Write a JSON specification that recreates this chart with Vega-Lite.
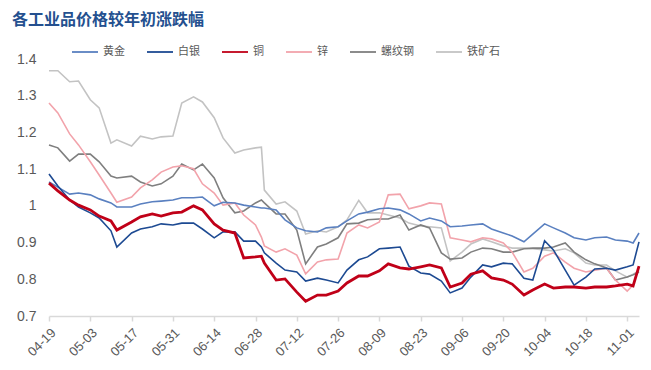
{
  "$schema": "https://vega.github.io/schema/vega-lite/v6.json",
  "width": 590,
  "height": 257,
  "autosize": {"type": "none"},
  "padding": {"left": 49, "top": 59, "right": 12, "bottom": 54},
  "background": "white",
  "title": {"text": "各工业品价格较年初涨跌幅", "anchor": "start", "frame": "group", "dx": -37, "offset": 10, "font": "Noto Sans CJK SC", "fontSize": 16, "fontWeight": "bold", "color": "#24508f"},
  "config": {"view": {"stroke": null}},
  "data": {"values": [
    {"date": "2021/04/19", "黄金": 1.065, "白银": 1.087, "铜": 1.062, "锌": 1.28, "螺纹钢": 1.166, "铁矿石": 1.368},
    {"date": "2021/04/22", "黄金": 1.051, "白银": 1.054, "铜": 1.041, "锌": 1.253, "螺纹钢": 1.158, "铁矿石": 1.368},
    {"date": "2021/04/26", "黄金": 1.032, "白银": 1.016, "铜": 1.016, "锌": 1.196, "螺纹钢": 1.122, "铁矿石": 1.338},
    {"date": "2021/04/29", "黄金": 1.035, "白银": 0.997, "铜": 1.002, "锌": 1.166, "螺纹钢": 1.141, "铁矿石": 1.34},
    {"date": "2021/05/03", "黄金": 1.03, "白银": 0.981, "铜": 0.989, "锌": 1.12, "螺纹钢": 1.141, "铁矿石": 1.289},
    {"date": "2021/05/06", "黄金": 1.019, "白银": 0.967, "铜": 0.972, "锌": 1.084, "螺纹钢": 1.12, "铁矿石": 1.267},
    {"date": "2021/05/10", "黄金": 1.008, "白银": 0.932, "铜": 0.959, "锌": 1.035, "螺纹钢": 1.081, "铁矿石": 1.171},
    {"date": "2021/05/12", "黄金": 0.997, "白银": 0.888, "铜": 0.934, "锌": 1.01, "螺纹钢": 1.076, "铁矿石": 1.18},
    {"date": "2021/05/17", "黄金": 0.997, "白银": 0.926, "铜": 0.956, "锌": 1.024, "螺纹钢": 1.081, "铁矿石": 1.163},
    {"date": "2021/05/20", "黄金": 1.005, "白银": 0.937, "铜": 0.97, "锌": 1.049, "螺纹钢": 1.065, "铁矿石": 1.19},
    {"date": "2021/05/24", "黄金": 1.011, "白银": 0.943, "铜": 0.978, "锌": 1.071, "螺纹钢": 1.054, "铁矿石": 1.182},
    {"date": "2021/05/27", "黄金": 1.013, "白银": 0.951, "铜": 0.972, "锌": 1.092, "螺纹钢": 1.06, "铁矿石": 1.188},
    {"date": "2021/05/31", "黄金": 1.016, "白银": 0.948, "铜": 0.981, "锌": 1.106, "螺纹钢": 1.081, "铁矿石": 1.19},
    {"date": "2021/06/03", "黄金": 1.022, "白银": 0.953, "铜": 0.983, "锌": 1.109, "螺纹钢": 1.114, "铁矿石": 1.28},
    {"date": "2021/06/07", "黄金": 1.022, "白银": 0.953, "铜": 1.0, "锌": 1.101, "螺纹钢": 1.098, "铁矿石": 1.297},
    {"date": "2021/06/10", "黄金": 1.024, "白银": 0.937, "铜": 0.989, "锌": 1.06, "螺纹钢": 1.114, "铁矿石": 1.283},
    {"date": "2021/06/14", "黄金": 1.0, "白银": 0.913, "铜": 0.951, "锌": 1.035, "螺纹钢": 1.076, "铁矿石": 1.24},
    {"date": "2021/06/17", "黄金": 1.01, "白银": 0.929, "铜": 0.934, "锌": 1.002, "螺纹钢": 1.022, "铁矿石": 1.185},
    {"date": "2021/06/21", "黄金": 1.008, "白银": 0.929, "铜": 0.926, "锌": 1.008, "螺纹钢": 0.981, "铁矿石": 1.144},
    {"date": "2021/06/24", "黄金": 1.002, "白银": 0.904, "铜": 0.858, "锌": 0.975, "螺纹钢": 0.986, "铁矿石": 1.152},
    {"date": "2021/06/28", "黄金": 0.997, "白银": 0.904, "铜": 0.861, "锌": 0.948, "螺纹钢": 1.008, "铁矿石": 1.158},
    {"date": "2021/06/30", "黄金": 0.994, "白银": 0.888, "铜": 0.863, "锌": 0.915, "螺纹钢": 1.016, "铁矿石": 1.16},
    {"date": "2021/07/01", "黄金": 0.994, "白银": 0.872, "铜": 0.844, "锌": 0.891, "螺纹钢": 1.008, "铁矿石": 1.043},
    {"date": "2021/07/05", "黄金": 0.989, "白银": 0.844, "铜": 0.798, "锌": 0.874, "螺纹钢": 0.978, "铁矿石": 1.005},
    {"date": "2021/07/08", "黄金": 0.962, "白银": 0.825, "铜": 0.801, "锌": 0.883, "螺纹钢": 0.978, "铁矿石": 1.011},
    {"date": "2021/07/12", "黄金": 0.94, "白银": 0.82, "铜": 0.765, "锌": 0.866, "螺纹钢": 0.934, "铁矿石": 0.986},
    {"date": "2021/07/15", "黄金": 0.932, "白银": 0.795, "铜": 0.74, "锌": 0.815, "螺纹钢": 0.842, "铁矿石": 0.923},
    {"date": "2021/07/19", "黄金": 0.929, "白银": 0.803, "铜": 0.757, "锌": 0.847, "螺纹钢": 0.888, "铁矿石": 0.932},
    {"date": "2021/07/22", "黄金": 0.94, "白银": 0.798, "铜": 0.757, "锌": 0.853, "螺纹钢": 0.896, "铁矿石": 0.929},
    {"date": "2021/07/26", "黄金": 0.943, "白银": 0.79, "铜": 0.768, "锌": 0.855, "螺纹钢": 0.913, "铁矿石": 0.943},
    {"date": "2021/07/29", "黄金": 0.959, "白银": 0.825, "铜": 0.79, "锌": 0.926, "螺纹钢": 0.951, "铁矿石": 0.962},
    {"date": "2021/08/02", "黄金": 0.978, "白银": 0.853, "铜": 0.809, "锌": 0.948, "螺纹钢": 0.953, "铁矿石": 1.015},
    {"date": "2021/08/05", "黄金": 0.983, "白银": 0.861, "铜": 0.809, "锌": 0.94, "螺纹钢": 0.962, "铁矿石": 0.981},
    {"date": "2021/08/09", "黄金": 0.992, "白银": 0.883, "铜": 0.823, "锌": 0.956, "螺纹钢": 0.964, "铁矿石": 0.981},
    {"date": "2021/08/12", "黄金": 0.994, "白银": 0.885, "铜": 0.842, "锌": 1.03, "螺纹钢": 0.964, "铁矿石": 0.975},
    {"date": "2021/08/16", "黄金": 0.989, "白银": 0.888, "铜": 0.831, "锌": 1.032, "螺纹钢": 0.975, "铁矿石": 0.967},
    {"date": "2021/08/19", "黄金": 0.978, "白银": 0.836, "铜": 0.828, "锌": 0.992, "螺纹钢": 0.934, "铁矿石": 0.953},
    {"date": "2021/08/23", "黄金": 0.959, "白银": 0.817, "铜": 0.834, "锌": 1.0, "螺纹钢": 0.948, "铁矿石": 0.945},
    {"date": "2021/08/26", "黄金": 0.967, "白银": 0.814, "铜": 0.839, "锌": 1.008, "螺纹钢": 0.94, "铁矿石": 0.943},
    {"date": "2021/08/30", "黄金": 0.959, "白银": 0.795, "铜": 0.831, "锌": 1.005, "螺纹钢": 0.872, "铁矿石": 0.94},
    {"date": "2021/09/02", "黄金": 0.943, "白银": 0.763, "铜": 0.779, "锌": 0.913, "螺纹钢": 0.855, "铁矿石": 0.85},
    {"date": "2021/09/06", "黄金": 0.945, "白银": 0.776, "铜": 0.79, "锌": 0.907, "螺纹钢": 0.858, "铁矿石": 0.874},
    {"date": "2021/09/09", "黄金": 0.948, "白银": 0.806, "铜": 0.814, "锌": 0.902, "螺纹钢": 0.874, "铁矿石": 0.896},
    {"date": "2021/09/13", "黄金": 0.951, "白银": 0.839, "铜": 0.823, "锌": 0.913, "螺纹钢": 0.885, "铁矿石": 0.91},
    {"date": "2021/09/16", "黄金": 0.937, "白银": 0.834, "铜": 0.804, "锌": 0.91, "螺纹钢": 0.883, "铁矿石": 0.902},
    {"date": "2021/09/20", "黄金": 0.926, "白银": 0.844, "铜": 0.798, "锌": 0.899, "螺纹钢": 0.874, "铁矿石": 0.891},
    {"date": "2021/09/23", "黄金": 0.918, "白银": 0.842, "铜": 0.787, "锌": 0.874, "螺纹钢": 0.874, "铁矿石": 0.885},
    {"date": "2021/09/27", "黄金": 0.902, "白银": 0.803, "铜": 0.757, "锌": 0.82, "螺纹钢": 0.883, "铁矿石": 0.885},
    {"date": "2021/09/30", "黄金": 0.923, "白银": 0.798, "铜": 0.771, "锌": 0.83, "螺纹钢": 0.885, "铁矿石": 0.883},
    {"date": "2021/10/04", "黄金": 0.951, "白银": 0.905, "铜": 0.787, "锌": 0.863, "螺纹钢": 0.885, "铁矿石": 0.88},
    {"date": "2021/10/07", "黄金": 0.94, "白银": 0.88, "铜": 0.776, "锌": 0.872, "螺纹钢": 0.888, "铁矿石": 0.877},
    {"date": "2021/10/11", "黄金": 0.926, "白银": 0.825, "铜": 0.779, "锌": 0.847, "螺纹钢": 0.899, "铁矿石": 0.883},
    {"date": "2021/10/14", "黄金": 0.913, "白银": 0.784, "铜": 0.779, "锌": 0.83, "螺纹钢": 0.874, "铁矿石": 0.872},
    {"date": "2021/10/18", "黄金": 0.907, "白银": 0.806, "铜": 0.776, "锌": 0.82, "螺纹钢": 0.853, "铁矿石": 0.844},
    {"date": "2021/10/21", "黄金": 0.913, "白银": 0.828, "铜": 0.779, "锌": 0.825, "螺纹钢": 0.842, "铁矿石": 0.839},
    {"date": "2021/10/25", "黄金": 0.915, "白银": 0.83, "铜": 0.779, "锌": 0.83, "螺纹钢": 0.831, "铁矿石": 0.839},
    {"date": "2021/10/28", "黄金": 0.907, "白银": 0.825, "铜": 0.782, "锌": 0.798, "螺纹钢": 0.798, "铁矿石": 0.823},
    {"date": "2021/11/01", "黄金": 0.904, "白银": 0.834, "铜": 0.787, "锌": 0.768, "螺纹钢": 0.806, "铁矿石": 0.806},
    {"date": "2021/11/03", "黄金": 0.899, "白银": 0.839, "铜": 0.782, "锌": 0.784, "螺纹钢": 0.812, "铁矿石": 0.814},
    {"date": "2021/11/05", "黄金": 0.926, "白银": 0.902, "铜": 0.836, "锌": 0.834, "螺纹钢": 0.82, "铁矿石": 0.823}
  ]},
  "transform": [{"fold": ["铁矿石", "螺纹钢", "锌", "黄金", "白银", "铜"], "as": ["s", "v"]}],
  "mark": {"type": "line", "interpolate": "linear"},
  "encoding": {
    "x": {
      "field": "date", "type": "temporal",
      "scale": {"domain": [{"year": 2021, "month": 4, "date": 19}, {"year": 2021, "month": 11, "date": 5}]},
      "axis": {
        "title": null, "grid": false, "format": "%m-%d", "labelAngle": -45,
        "values": [
          {"year": 2021, "month": 4, "date": 19}, {"year": 2021, "month": 5, "date": 3},
          {"year": 2021, "month": 5, "date": 17}, {"year": 2021, "month": 5, "date": 31},
          {"year": 2021, "month": 6, "date": 14}, {"year": 2021, "month": 6, "date": 28},
          {"year": 2021, "month": 7, "date": 12}, {"year": 2021, "month": 7, "date": 26},
          {"year": 2021, "month": 8, "date": 9}, {"year": 2021, "month": 8, "date": 23},
          {"year": 2021, "month": 9, "date": 6}, {"year": 2021, "month": 9, "date": 20},
          {"year": 2021, "month": 10, "date": 4}, {"year": 2021, "month": 10, "date": 18},
          {"year": 2021, "month": 11, "date": 1}
        ],
        "domainColor": "#d9d9d9", "domainWidth": 1.5, "tickColor": "#d9d9d9", "tickSize": 5, "tickWidth": 1.5,
        "labelColor": "#595959", "labelFont": "Liberation Sans", "labelFontSize": 13, "labelPadding": 5
      }
    },
    "y": {
      "field": "v", "type": "quantitative",
      "scale": {"domain": [0.7, 1.4], "zero": false, "nice": false},
      "axis": {
        "title": null, "grid": false, "domain": false, "ticks": false,
        "values": [0.7, 0.8, 0.9, 1.0, 1.1, 1.2, 1.3, 1.4], "format": ".1~f",
        "labelColor": "#595959", "labelFont": "Liberation Sans", "labelFontSize": 14, "labelPadding": 13
      }
    },
    "color": {
      "field": "s", "type": "nominal",
      "scale": {"domain": ["黄金", "白银", "铜", "锌", "螺纹钢", "铁矿石"], "range": ["#5a80c0", "#1d4a92", "#c00018", "#f2a3ab", "#7f7f7f", "#c3c3c3"]},
      "legend": {
        "orient": "none", "legendX": 22, "legendY": -21, "direction": "horizontal", "title": null,
        "symbolType": "stroke", "symbolSize": 676, "symbolStrokeWidth": 1.8,
        "labelFont": "Noto Sans CJK SC", "labelFontSize": 11, "labelColor": "#595959",
        "columnPadding": 18, "labelOffset": 4
      }
    },
    "strokeWidth": {"condition": {"test": "datum.s === '铜'", "value": 2.8}, "value": 1.6}
  }
}
